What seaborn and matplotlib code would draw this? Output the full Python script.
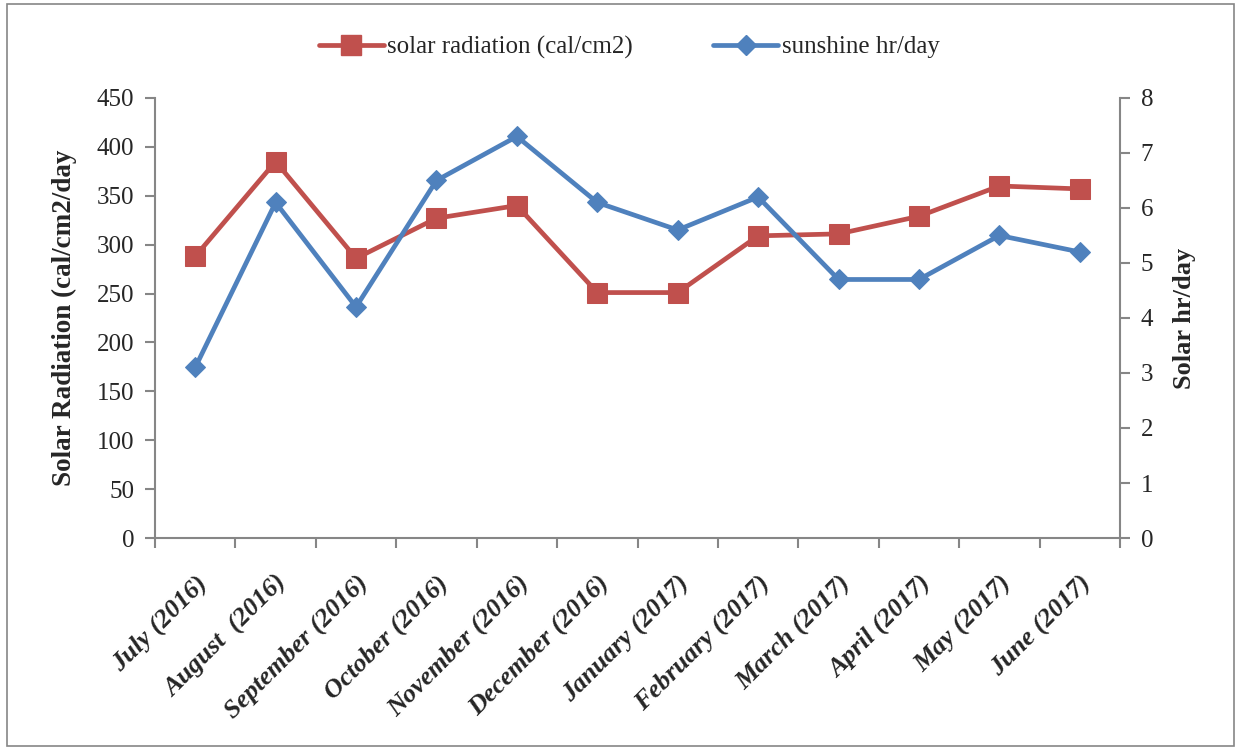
import matplotlib
matplotlib.use("Agg")
import matplotlib.pyplot as plt
import seaborn as sns
import pandas as pd
import numpy as np
from matplotlib.patches import Rectangle
from matplotlib.lines import Line2D

months = ["July (2016)", "August  (2016)", "September (2016)", "October (2016)",
          "November (2016)", "December (2016)", "January (2017)", "February (2017)",
          "March (2017)", "April (2017)", "May (2017)", "June (2017)"]
solar_radiation = [288, 385, 286, 327, 340, 251, 251, 309, 311, 329, 360, 357]
sunshine = [3.1, 6.1, 4.2, 6.5, 7.3, 6.1, 5.6, 6.2, 4.7, 4.7, 5.5, 5.2]

sns.set_style("white")
plt.rcParams['font.family'] = ['Liberation Serif', 'DejaVu Serif']

RED = "#C0504D"
BLUE = "#4F81BD"
GRAY = "#868686"

fig = plt.figure(figsize=(12.41, 7.49), dpi=100)
ax = fig.add_axes([0.1249, 0.2817, 0.7776, 0.5875])
ax2 = ax.twinx()

x = np.arange(len(months))
df = pd.DataFrame({"x": x, "rad": solar_radiation, "sun": sunshine})

sns.lineplot(data=df, x="x", y="rad", ax=ax, color=RED, lw=3.4, marker="s",
             markersize=14, markeredgecolor=RED, legend=False, zorder=3)
sns.lineplot(data=df, x="x", y="sun", ax=ax2, color=BLUE, lw=3.4, marker="D",
             markersize=10.5, markeredgecolor=BLUE, legend=False, zorder=3)

for a in (ax, ax2):
    a.set_xlim(-0.5, len(months) - 0.5)
    a.set_xlabel("")
    for s in a.spines.values():
        s.set_visible(False)

ax.set_ylim(0, 450)
ax.set_yticks(np.arange(0, 451, 50))
ax2.set_ylim(0, 8)
ax2.set_yticks(np.arange(0, 9, 1))

ax.spines['left'].set_visible(True)
ax.spines['bottom'].set_visible(True)
ax2.spines['right'].set_visible(True)
for s in (ax.spines['left'], ax.spines['bottom'], ax2.spines['right']):
    s.set_color(GRAY)
    s.set_linewidth(1.5)

ax.set_xticks(x)
ax.set_xticklabels(months, rotation=45, ha="right", rotation_mode="anchor",
                   fontsize=19, fontweight="bold", fontstyle="italic")
ax.set_xticks(np.arange(-0.5, len(months), 1), minor=True)
ax.tick_params(axis="x", which="major", length=0, pad=24)
ax.tick_params(axis="x", which="minor", length=7, color=GRAY, width=1.5, direction="out", bottom=True)
ax.tick_params(axis="y", length=7, color=GRAY, width=1.5, direction="out", left=True, labelsize=18, pad=8)
ax2.tick_params(axis="y", length=7, color=GRAY, width=1.5, direction="out", right=True, labelsize=18, pad=8)

ax.set_ylabel("Solar Radiation (cal/cm2/day", fontsize=19.5, fontweight="bold", labelpad=14)
ax2.set_ylabel("Solar hr/day", fontsize=19, fontweight="bold", labelpad=14)

handles = [Line2D([], [], color=RED, lw=3.4, marker="s", markersize=14),
           Line2D([], [], color=BLUE, lw=3.4, marker="D", markersize=10.5)]
fig.legend(handles, ["solar radiation (cal/cm2)", "sunshine hr/day"], loc="center",
           bbox_to_anchor=(0.507, 0.937), ncol=2, frameon=False, fontsize=18,
           handlelength=2.6, columnspacing=3.2, handletextpad=0.15)

fig.patches.append(Rectangle((0.006, 0.004), 0.988, 0.99, transform=fig.transFigure,
                             fill=False, edgecolor=GRAY, lw=1.2))

fig.savefig("out.png", dpi=100)
